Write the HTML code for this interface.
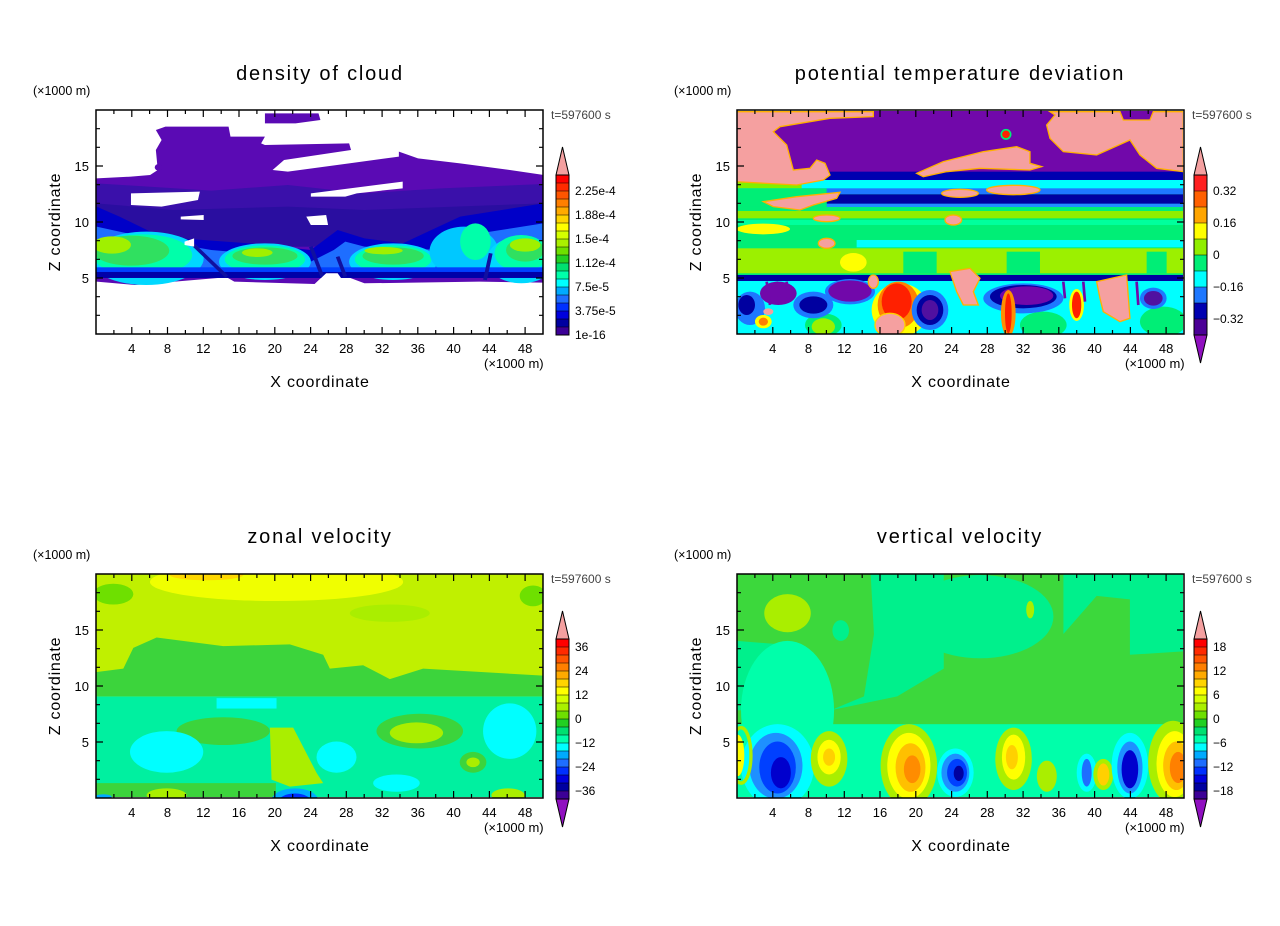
<!DOCTYPE html>
<html><head><meta charset="utf-8"><style>
html,body{margin:0;padding:0;background:#fff;}
svg{display:block;}
text{font-family:"Liberation Sans",sans-serif;fill:#000;}
.t{font-size:20px;letter-spacing:1.8px;}
.ax{font-size:16px;letter-spacing:0.8px;}
.tk{font-size:13px;}
.sm{font-size:12.5px;}
.ts{font-size:12px;fill:#444;}
.cb{font-size:12px;}
</style></head><body>
<svg width="1280" height="926" viewBox="0 0 1280 926" xmlns="http://www.w3.org/2000/svg">
<defs>
<clipPath id="c1"><rect x="96" y="110" width="447" height="224"/></clipPath>
<clipPath id="c2"><rect x="737" y="110" width="446" height="224"/></clipPath>
<clipPath id="c3"><rect x="96" y="574" width="447" height="224"/></clipPath>
<clipPath id="c4"><rect x="737" y="574" width="446" height="224"/></clipPath>
<g id="tk">
<rect x="0" y="0" width="447" height="224" fill="none" stroke="#000" stroke-width="1.5"/>
<path stroke="#000" stroke-width="1.2" fill="none" d="M35.8,224v-7M71.5,224v-7M107.3,224v-7M143,224v-7M178.8,224v-7M214.6,224v-7M250.3,224v-7M286.1,224v-7M321.8,224v-7M357.6,224v-7M393.4,224v-7M429.1,224v-7
M35.8,0v7M71.5,0v7M107.3,0v7M143,0v7M178.8,0v7M214.6,0v7M250.3,0v7M286.1,0v7M321.8,0v7M357.6,0v7M393.4,0v7M429.1,0v7
M17.9,224v-4M53.6,224v-4M89.4,224v-4M125.2,224v-4M160.9,224v-4M196.7,224v-4M232.4,224v-4M268.2,224v-4M304,224v-4M339.7,224v-4M375.5,224v-4M411.2,224v-4
M17.9,0v4M53.6,0v4M89.4,0v4M125.2,0v4M160.9,0v4M196.7,0v4M232.4,0v4M268.2,0v4M304,0v4M339.7,0v4M375.5,0v4M411.2,0v4
M0,168h7M0,112h7M0,56h7M447,168h-7M447,112h-7M447,56h-7
M0,205.3h4M0,186.7h4M0,149.3h4M0,130.7h4M0,93.3h4M0,74.7h4M0,37.3h4M0,18.7h4
M447,205.3h-4M447,186.7h-4M447,149.3h-4M447,130.7h-4M447,93.3h-4M447,74.7h-4M447,37.3h-4M447,18.7h-4"/>
</g>
<g id="lab">
<text class="tk" text-anchor="middle" x="35.8" y="243">4</text><text class="tk" text-anchor="middle" x="71.5" y="243">8</text><text class="tk" text-anchor="middle" x="107.3" y="243">12</text><text class="tk" text-anchor="middle" x="143" y="243">16</text><text class="tk" text-anchor="middle" x="178.8" y="243">20</text><text class="tk" text-anchor="middle" x="214.6" y="243">24</text><text class="tk" text-anchor="middle" x="250.3" y="243">28</text><text class="tk" text-anchor="middle" x="286.1" y="243">32</text><text class="tk" text-anchor="middle" x="321.8" y="243">36</text><text class="tk" text-anchor="middle" x="357.6" y="243">40</text><text class="tk" text-anchor="middle" x="393.4" y="243">44</text><text class="tk" text-anchor="middle" x="429.1" y="243">48</text>
<text class="tk" text-anchor="end" x="-7" y="173">5</text><text class="tk" text-anchor="end" x="-7" y="117">10</text><text class="tk" text-anchor="end" x="-7" y="61">15</text>
<text class="tk" x="388" y="258">(×1000 m)</text>
<text class="sm" x="-63" y="-15">(×1000 m)</text>
<text class="ts" x="455" y="9">t=597600 s</text>
<text class="ax" text-anchor="middle" x="224" y="277">X coordinate</text>
<text class="ax" text-anchor="middle" transform="translate(-36,112) rotate(-90)">Z coordinate</text>
</g>
<g id="cb20">
<rect x="0" y="0" width="13" height="8" fill="#ff0000"/><rect x="0" y="8" width="13" height="8" fill="#ff2a00"/><rect x="0" y="16" width="13" height="8" fill="#ff5500"/><rect x="0" y="24" width="13" height="8" fill="#ff7f00"/><rect x="0" y="32" width="13" height="8" fill="#ffaa00"/><rect x="0" y="40" width="13" height="8" fill="#ffd400"/><rect x="0" y="48" width="13" height="8" fill="#ffff00"/><rect x="0" y="56" width="13" height="8" fill="#d4ff00"/><rect x="0" y="64" width="13" height="8" fill="#aaf000"/><rect x="0" y="72" width="13" height="8" fill="#6ee000"/><rect x="0" y="80" width="13" height="8" fill="#22d022"/><rect x="0" y="88" width="13" height="8" fill="#00e070"/><rect x="0" y="96" width="13" height="8" fill="#00ffaa"/><rect x="0" y="104" width="13" height="8" fill="#00ffff"/><rect x="0" y="112" width="13" height="8" fill="#00aaff"/><rect x="0" y="120" width="13" height="8" fill="#1e6eff"/><rect x="0" y="128" width="13" height="8" fill="#0030ff"/><rect x="0" y="136" width="13" height="8" fill="#0000dd"/><rect x="0" y="144" width="13" height="8" fill="#0000a0"/><rect x="0" y="152" width="13" height="8" fill="#3c0096"/>
<path d="M0,8h13M0,16h13M0,24h13M0,32h13M0,40h13M0,48h13M0,56h13M0,64h13M0,72h13M0,80h13M0,88h13M0,96h13M0,104h13M0,112h13M0,120h13M0,128h13M0,136h13M0,144h13M0,152h13" stroke="#000" stroke-width="0.6"/>
<rect x="0" y="0" width="13" height="160" fill="none" stroke="#000" stroke-width="1"/>
<polygon points="0,0 6.5,-28 13,0" fill="#f4a0a0" stroke="#000" stroke-width="1"/>
</g>
</defs>

<!-- Panel 1 -->
<g clip-path="url(#c1)">
<rect x="96" y="110" width="447" height="224" fill="#fff"/>
<g transform="translate(20,60) scale(0.3827,0.3333)">
<polygon fill="#5a0ab4" points="200,355 290,350 340,345 360,330 355,270 370,240 355,210 380,200 545,200 550,230 640,230 630,250 640,255 860,250 865,270 690,300 660,330 700,335 860,310 990,290 990,275 1040,295 1150,310 1280,330 1368,345 1368,668 1200,665 900,670 830,640 800,640 770,672 560,665 540,652 300,675 200,665"/>
<polygon fill="#5a0ab4" points="640,160 780,160 785,180 720,190 640,190"/>
<circle cx="362" cy="322" r="10" fill="#5a0ab4"/>
<polygon fill="#3a10aa" points="200,370 500,392 700,375 900,400 1100,385 1368,372 1368,560 200,560"/>
<polygon fill="#2a0ea0" points="200,430 400,450 700,440 900,450 1368,430 1368,560 200,560"/>
<polygon fill="#0000c8" points="200,440 260,470 350,520 420,535 600,550 760,570 830,510 900,535 1000,550 1150,470 1368,430 1368,640 200,640"/>
<polygon fill="#1e6eff" points="200,500 400,550 500,570 700,590 760,605 820,570 850,545 900,560 1100,570 1200,520 1368,490 1368,630 200,630"/>
<ellipse cx="330" cy="595" rx="150" ry="80" fill="#00d8ff"/>
<ellipse cx="320" cy="585" rx="130" ry="62" fill="#00ffaa"/>
<ellipse cx="290" cy="572" rx="100" ry="45" fill="#30e060"/>
<ellipse cx="240" cy="555" rx="50" ry="26" fill="#a0f000"/>
<ellipse cx="640" cy="605" rx="120" ry="55" fill="#00d8ff"/>
<ellipse cx="640" cy="598" rx="105" ry="42" fill="#00ffaa"/>
<ellipse cx="640" cy="588" rx="85" ry="26" fill="#30e060"/>
<ellipse cx="620" cy="578" rx="40" ry="13" fill="#a0f000"/>
<ellipse cx="975" cy="605" rx="115" ry="55" fill="#00d8ff"/>
<ellipse cx="975" cy="598" rx="100" ry="42" fill="#00ffaa"/>
<ellipse cx="975" cy="588" rx="80" ry="26" fill="#30e060"/>
<ellipse cx="950" cy="572" rx="50" ry="11" fill="#a0f000"/>
<ellipse cx="1160" cy="575" rx="90" ry="75" fill="#00c8ff"/>
<ellipse cx="1190" cy="545" rx="40" ry="55" fill="#00ffaa"/>
<ellipse cx="1310" cy="600" rx="90" ry="70" fill="#00d8ff"/>
<ellipse cx="1310" cy="580" rx="70" ry="55" fill="#00ffaa"/>
<ellipse cx="1320" cy="570" rx="50" ry="35" fill="#30e060"/>
<ellipse cx="1320" cy="555" rx="40" ry="20" fill="#a0f000"/>
<rect x="200" y="622" width="1168" height="16" fill="#0040ff"/>
<rect x="200" y="636" width="1168" height="18" fill="#0000a8"/>
<path d="M440,540 L540,650 M760,560 L790,650 M830,590 L850,650 M1230,580 L1215,660" stroke="#1010a0" stroke-width="10" fill="none"/>
<polygon fill="#fff" points="770,672 800,640 830,640 850,672"/>
<polygon fill="#fff" points="290,400 470,395 465,420 370,440 290,435"/>
<polygon fill="#fff" points="760,400 1000,365 1000,385 880,400 850,410 760,410"/>
<polygon fill="#fff" points="748,470 800,465 805,495 760,495"/>
<polygon fill="#fff" points="420,470 480,465 480,480 420,478"/>
<polygon fill="#fff" points="430,545 455,535 455,560 430,555"/>
</g>
</g>
<use href="#tk" x="96" y="110"/>
<use href="#lab" x="96" y="110"/>
<text class="t" text-anchor="middle" x="320" y="80">density of cloud</text>
<use href="#cb20" x="556" y="175"/>
<text class="cb" x="575" y="195">2.25e-4</text><text class="cb" x="575" y="219">1.88e-4</text><text class="cb" x="575" y="243">1.5e-4</text><text class="cb" x="575" y="267">1.12e-4</text><text class="cb" x="575" y="291">7.5e-5</text><text class="cb" x="575" y="315">3.75e-5</text><text class="cb" x="575" y="339">1e-16</text>

<!-- Panel 2 -->
<g clip-path="url(#c2)">
<g transform="translate(730,105) scale(0.3333)">
<rect x="15" y="18" width="1345" height="672" fill="#00ee76"/>
<rect x="15" y="18" width="1345" height="195" fill="#7108aa"/>
<rect x="15" y="200" width="1345" height="28" fill="#0000b0"/>
<rect x="15" y="225" width="1345" height="37" fill="#00ffff"/>
<rect x="15" y="250" width="1345" height="18" fill="#1e78ff"/>
<rect x="290" y="268" width="1070" height="30" fill="#0000a0"/>
<rect x="15" y="296" width="1345" height="10" fill="#1e90ff"/>
<rect x="15" y="225" width="200" height="25" fill="#80f000"/>
<rect x="15" y="250" width="275" height="56" fill="#00ee76"/>
<rect x="15" y="318" width="1345" height="22" fill="#90ee00"/>
<rect x="15" y="345" width="1345" height="15" fill="#00ff9c"/>
<rect x="380" y="405" width="980" height="22" fill="#00ffff"/>
<rect x="15" y="430" width="1345" height="75" fill="#9cf000"/>
<rect x="520" y="440" width="100" height="65" fill="#00ee76"/>
<rect x="830" y="440" width="100" height="65" fill="#00ee76"/>
<rect x="1250" y="440" width="60" height="65" fill="#00ee76"/>
<ellipse cx="100" cy="372" rx="80" ry="16" fill="#ffff00"/>
<ellipse cx="370" cy="472" rx="40" ry="28" fill="#ffff00"/>
<rect x="15" y="510" width="1345" height="20" fill="#0000a0"/>
<rect x="15" y="528" width="1345" height="162" fill="#00ffff"/>
<ellipse cx="280" cy="660" rx="55" ry="35" fill="#00ee76"/>
<ellipse cx="280" cy="665" rx="35" ry="25" fill="#9cf000"/>
<ellipse cx="940" cy="660" rx="70" ry="40" fill="#00ee76"/>
<ellipse cx="1300" cy="650" rx="70" ry="45" fill="#00ee76"/>
<ellipse cx="60" cy="610" rx="45" ry="50" fill="#1e78ff"/>
<ellipse cx="50" cy="600" rx="25" ry="30" fill="#0000a0"/>
<ellipse cx="145" cy="565" rx="55" ry="35" fill="#7108aa"/>
<ellipse cx="250" cy="600" rx="60" ry="40" fill="#1e78ff"/>
<ellipse cx="250" cy="600" rx="42" ry="26" fill="#0000a0"/>
<ellipse cx="360" cy="560" rx="75" ry="38" fill="#1e78ff"/>
<ellipse cx="360" cy="558" rx="65" ry="32" fill="#7108aa"/>
<ellipse cx="510" cy="615" rx="85" ry="80" fill="#ffff00"/>
<ellipse cx="505" cy="600" rx="62" ry="70" fill="#ff8000"/>
<ellipse cx="500" cy="590" rx="45" ry="55" fill="#ff2000"/>
<ellipse cx="600" cy="615" rx="55" ry="60" fill="#1e78ff"/>
<ellipse cx="600" cy="615" rx="40" ry="45" fill="#0000a0"/>
<ellipse cx="600" cy="615" rx="25" ry="30" fill="#5010a0"/>
<ellipse cx="480" cy="660" rx="45" ry="35" fill="#f5a0a0" stroke="#ffd000" stroke-width="4"/>
<ellipse cx="880" cy="580" rx="120" ry="45" fill="#1e78ff"/>
<ellipse cx="880" cy="575" rx="100" ry="35" fill="#0000a0"/>
<ellipse cx="890" cy="572" rx="80" ry="28" fill="#7108aa"/>
<ellipse cx="835" cy="625" rx="22" ry="70" fill="#ff9000"/>
<ellipse cx="835" cy="625" rx="10" ry="60" fill="#ff2000"/>
<ellipse cx="1040" cy="600" rx="22" ry="48" fill="#ffff00"/>
<ellipse cx="1040" cy="600" rx="14" ry="40" fill="#ff2000"/>
<ellipse cx="1270" cy="580" rx="40" ry="32" fill="#1e78ff"/>
<ellipse cx="1270" cy="580" rx="28" ry="22" fill="#5010a0"/>
<ellipse cx="100" cy="650" rx="25" ry="20" fill="#ffff00"/>
<ellipse cx="100" cy="650" rx="14" ry="12" fill="#ff8000"/>
<ellipse cx="115" cy="620" rx="15" ry="10" fill="#f5a0a0"/>
<path d="M110,530 L120,600 M140,530 L150,590 M170,530 L175,580 M1000,530 L1005,580 M1060,530 L1065,590 M1220,530 L1225,600" stroke="#7108aa" stroke-width="8"/>
<g fill="#f5a0a0" stroke="#ffb000" stroke-width="4">
<polygon points="15,20 430,20 430,35 300,40 150,65 130,80 170,120 190,195 240,190 260,165 285,175 300,210 280,225 200,240 15,230"/>
<polygon points="960,20 1170,20 1180,45 1260,45 1270,20 1360,20 1360,200 1280,190 1230,150 1200,105 1100,150 1000,140 960,100 950,60 975,30"/>
<polygon points="560,205 640,170 760,140 860,125 900,140 900,175 935,185 900,195 750,190 650,200 580,215"/>
<polygon points="100,290 200,275 300,265 330,262 320,280 250,300 210,315 130,305"/>
<polygon points="660,500 720,490 750,520 730,560 745,600 700,600 680,560"/>
<polygon points="1100,530 1190,510 1200,640 1170,650 1120,620 1110,580"/>
<ellipse cx="670" cy="345" rx="25" ry="15"/>
<ellipse cx="290" cy="340" rx="40" ry="10"/>
<ellipse cx="290" cy="415" rx="25" ry="15"/>
<ellipse cx="430" cy="530" rx="15" ry="20"/>
<ellipse cx="690" cy="265" rx="55" ry="12"/>
<ellipse cx="850" cy="255" rx="80" ry="14"/>
</g>
<circle cx="828" cy="88" r="14" fill="#ff2000" stroke="#00ee76" stroke-width="5"/>
</g>
</g>
<use href="#tk" x="737" y="110"/>
<use href="#lab" x="737" y="110"/>
<text class="t" text-anchor="middle" x="960" y="80">potential temperature deviation</text>
<g transform="translate(1194,175)">
<rect x="0" y="0" width="13" height="16" fill="#ff2020"/><rect x="0" y="16" width="13" height="16" fill="#ff6000"/><rect x="0" y="32" width="13" height="16" fill="#ffa500"/><rect x="0" y="48" width="13" height="16" fill="#ffff00"/><rect x="0" y="64" width="13" height="16" fill="#90ee00"/><rect x="0" y="80" width="13" height="16" fill="#00ee76"/><rect x="0" y="96" width="13" height="16" fill="#00ffff"/><rect x="0" y="112" width="13" height="16" fill="#1e78ff"/><rect x="0" y="128" width="13" height="16" fill="#0000b0"/><rect x="0" y="144" width="13" height="16" fill="#4b0096"/>
<path d="M0,16h13M0,32h13M0,48h13M0,64h13M0,80h13M0,96h13M0,112h13M0,128h13M0,144h13" stroke="#000" stroke-width="0.6"/>
<rect x="0" y="0" width="13" height="160" fill="none" stroke="#000"/>
<polygon points="0,0 6.5,-28 13,0" fill="#f4a0a0" stroke="#000"/>
<polygon points="0,160 6.5,188 13,160" fill="#9010c0" stroke="#000"/>
</g>
<text class="cb" x="1213" y="195">0.32</text><text class="cb" x="1213" y="227">0.16</text><text class="cb" x="1213" y="259">0</text><text class="cb" x="1213" y="291">−0.16</text><text class="cb" x="1213" y="323">−0.32</text>

<!-- Panel 3 -->
<g clip-path="url(#c3)">
<g transform="translate(96,574) scale(0.3331,0.3468) translate(-18,-27)">
<rect x="18" y="27" width="1342" height="643" fill="#c0f000"/>
<ellipse cx="560" cy="50" rx="380" ry="55" fill="#f0ff00"/>
<ellipse cx="350" cy="30" rx="110" ry="15" fill="#ffd700"/>
<ellipse cx="70" cy="85" rx="60" ry="30" fill="#6ee000"/>
<ellipse cx="1330" cy="90" rx="40" ry="30" fill="#6ee000"/>
<polygon fill="#3cd43c" points="130,240 200,210 400,235 600,230 700,260 720,300 820,290 900,330 1000,300 1360,320 1360,380 18,380 18,310 100,300"/>
<ellipse cx="900" cy="140" rx="120" ry="25" fill="#aaee00"/>
<rect x="18" y="380" width="1342" height="290" fill="#00f0a0"/>
<ellipse cx="400" cy="480" rx="140" ry="40" fill="#3cd43c"/>
<polygon fill="#aaee00" points="540,470 610,470 680,600 700,630 600,640 545,620"/>
<ellipse cx="990" cy="480" rx="130" ry="50" fill="#3cd43c"/>
<ellipse cx="980" cy="485" rx="80" ry="30" fill="#aaee00"/>
<ellipse cx="1150" cy="570" rx="40" ry="30" fill="#3cd43c"/>
<ellipse cx="1150" cy="570" rx="20" ry="14" fill="#aaee00"/>
<ellipse cx="230" cy="540" rx="110" ry="60" fill="#00ffff"/>
<ellipse cx="740" cy="555" rx="60" ry="45" fill="#00ffff"/>
<ellipse cx="1260" cy="480" rx="80" ry="80" fill="#00ffff"/>
<ellipse cx="920" cy="630" rx="70" ry="25" fill="#00ffff"/>
<rect x="380" y="385" width="180" height="30" fill="#00ffff"/>
<rect x="18" y="630" width="540" height="40" fill="#3cd43c"/>
<ellipse cx="230" cy="665" rx="60" ry="20" fill="#aaee00"/>
<ellipse cx="1255" cy="665" rx="50" ry="20" fill="#aaee00"/>
<ellipse cx="615" cy="680" rx="70" ry="35" fill="#00aaff"/>
<ellipse cx="615" cy="685" rx="50" ry="25" fill="#0030ff"/>
<ellipse cx="40" cy="670" rx="25" ry="8" fill="#00aaff"/>
</g>
</g>
<use href="#tk" x="96" y="574"/>
<use href="#lab" x="96" y="574"/>
<text class="t" text-anchor="middle" x="320" y="543">zonal velocity</text>
<use href="#cb20" x="556" y="639"/>
<polygon points="556,799 562.5,827 569,799" fill="#9010c0" stroke="#000"/>
<text class="cb" x="575" y="651">36</text><text class="cb" x="575" y="675">24</text><text class="cb" x="575" y="699">12</text><text class="cb" x="575" y="723">0</text><text class="cb" x="575" y="747">−12</text><text class="cb" x="575" y="771">−24</text><text class="cb" x="575" y="795">−36</text>

<!-- Panel 4 -->
<g clip-path="url(#c4)">
<g transform="translate(737,574) scale(0.3324,0.3468) translate(-18,-27)">
<rect x="18" y="27" width="1342" height="643" fill="#00f08c"/>
<polygon fill="#3cd83c" points="18,27 420,27 430,200 400,380 300,420 200,300 150,230 18,220"/>
<polygon fill="#3cd83c" points="640,27 1000,27 1000,200 1100,90 1200,100 1200,260 1360,250 1360,460 18,470 18,420 300,420 500,380 640,300"/>
<ellipse cx="170" cy="140" rx="70" ry="55" fill="#aaee00"/>
<ellipse cx="330" cy="190" rx="25" ry="30" fill="#00f08c"/>
<ellipse cx="750" cy="150" rx="220" ry="120" fill="#00f08c"/>
<ellipse cx="900" cy="130" rx="12" ry="25" fill="#aaee00"/>
<ellipse cx="170" cy="420" rx="140" ry="200" fill="#00ffaa"/>
<rect x="18" y="460" width="1342" height="210" fill="#00ffaa"/>
<ellipse cx="140" cy="580" rx="110" ry="120" fill="#00ffff"/>
<ellipse cx="135" cy="580" rx="80" ry="95" fill="#1e90ff"/>
<ellipse cx="140" cy="585" rx="55" ry="75" fill="#0040ff"/>
<ellipse cx="150" cy="600" rx="30" ry="45" fill="#0000cd"/>
<ellipse cx="295" cy="560" rx="55" ry="80" fill="#aaee00"/>
<ellipse cx="295" cy="555" rx="35" ry="50" fill="#ffff00"/>
<ellipse cx="295" cy="555" rx="18" ry="25" fill="#ffd000"/>
<ellipse cx="535" cy="580" rx="85" ry="120" fill="#aaee00"/>
<ellipse cx="535" cy="580" rx="65" ry="95" fill="#ffff00"/>
<ellipse cx="540" cy="585" rx="45" ry="70" fill="#ffc000"/>
<ellipse cx="545" cy="590" rx="25" ry="40" fill="#ff8c00"/>
<ellipse cx="675" cy="600" rx="55" ry="70" fill="#00ffff"/>
<ellipse cx="675" cy="600" rx="42" ry="55" fill="#1e90ff"/>
<ellipse cx="680" cy="600" rx="30" ry="40" fill="#0040ff"/>
<ellipse cx="685" cy="602" rx="15" ry="22" fill="#0000a0"/>
<ellipse cx="850" cy="560" rx="55" ry="90" fill="#aaee00"/>
<ellipse cx="850" cy="555" rx="35" ry="65" fill="#ffff00"/>
<ellipse cx="845" cy="555" rx="18" ry="35" fill="#ffd000"/>
<ellipse cx="950" cy="610" rx="30" ry="45" fill="#aaee00"/>
<ellipse cx="1070" cy="600" rx="30" ry="55" fill="#00ffff"/>
<ellipse cx="1070" cy="600" rx="15" ry="40" fill="#1e6eff"/>
<ellipse cx="1120" cy="605" rx="30" ry="45" fill="#aaee00"/>
<ellipse cx="1120" cy="605" rx="18" ry="32" fill="#ffd000"/>
<ellipse cx="1200" cy="580" rx="55" ry="95" fill="#00ffff"/>
<ellipse cx="1200" cy="585" rx="38" ry="75" fill="#1e90ff"/>
<ellipse cx="1200" cy="590" rx="25" ry="55" fill="#0000cd"/>
<ellipse cx="1330" cy="570" rx="75" ry="120" fill="#aaee00"/>
<ellipse cx="1335" cy="575" rx="55" ry="95" fill="#ffff00"/>
<ellipse cx="1340" cy="580" rx="40" ry="70" fill="#ffc000"/>
<ellipse cx="1345" cy="585" rx="25" ry="45" fill="#ff8000"/>
<ellipse cx="20" cy="550" rx="20" ry="60" fill="#ffff00"/>
<ellipse cx="30" cy="550" rx="30" ry="80" fill="none" stroke="#aaee00" stroke-width="10"/>
</g>
</g>
<use href="#tk" x="737" y="574"/>
<use href="#lab" x="737" y="574"/>
<text class="t" text-anchor="middle" x="960" y="543">vertical velocity</text>
<use href="#cb20" x="1194" y="639"/>
<polygon points="1194,799 1200.5,827 1207,799" fill="#9010c0" stroke="#000"/>
<text class="cb" x="1213" y="651">18</text><text class="cb" x="1213" y="675">12</text><text class="cb" x="1213" y="699">6</text><text class="cb" x="1213" y="723">0</text><text class="cb" x="1213" y="747">−6</text><text class="cb" x="1213" y="771">−12</text><text class="cb" x="1213" y="795">−18</text>
</svg>
</body></html>
